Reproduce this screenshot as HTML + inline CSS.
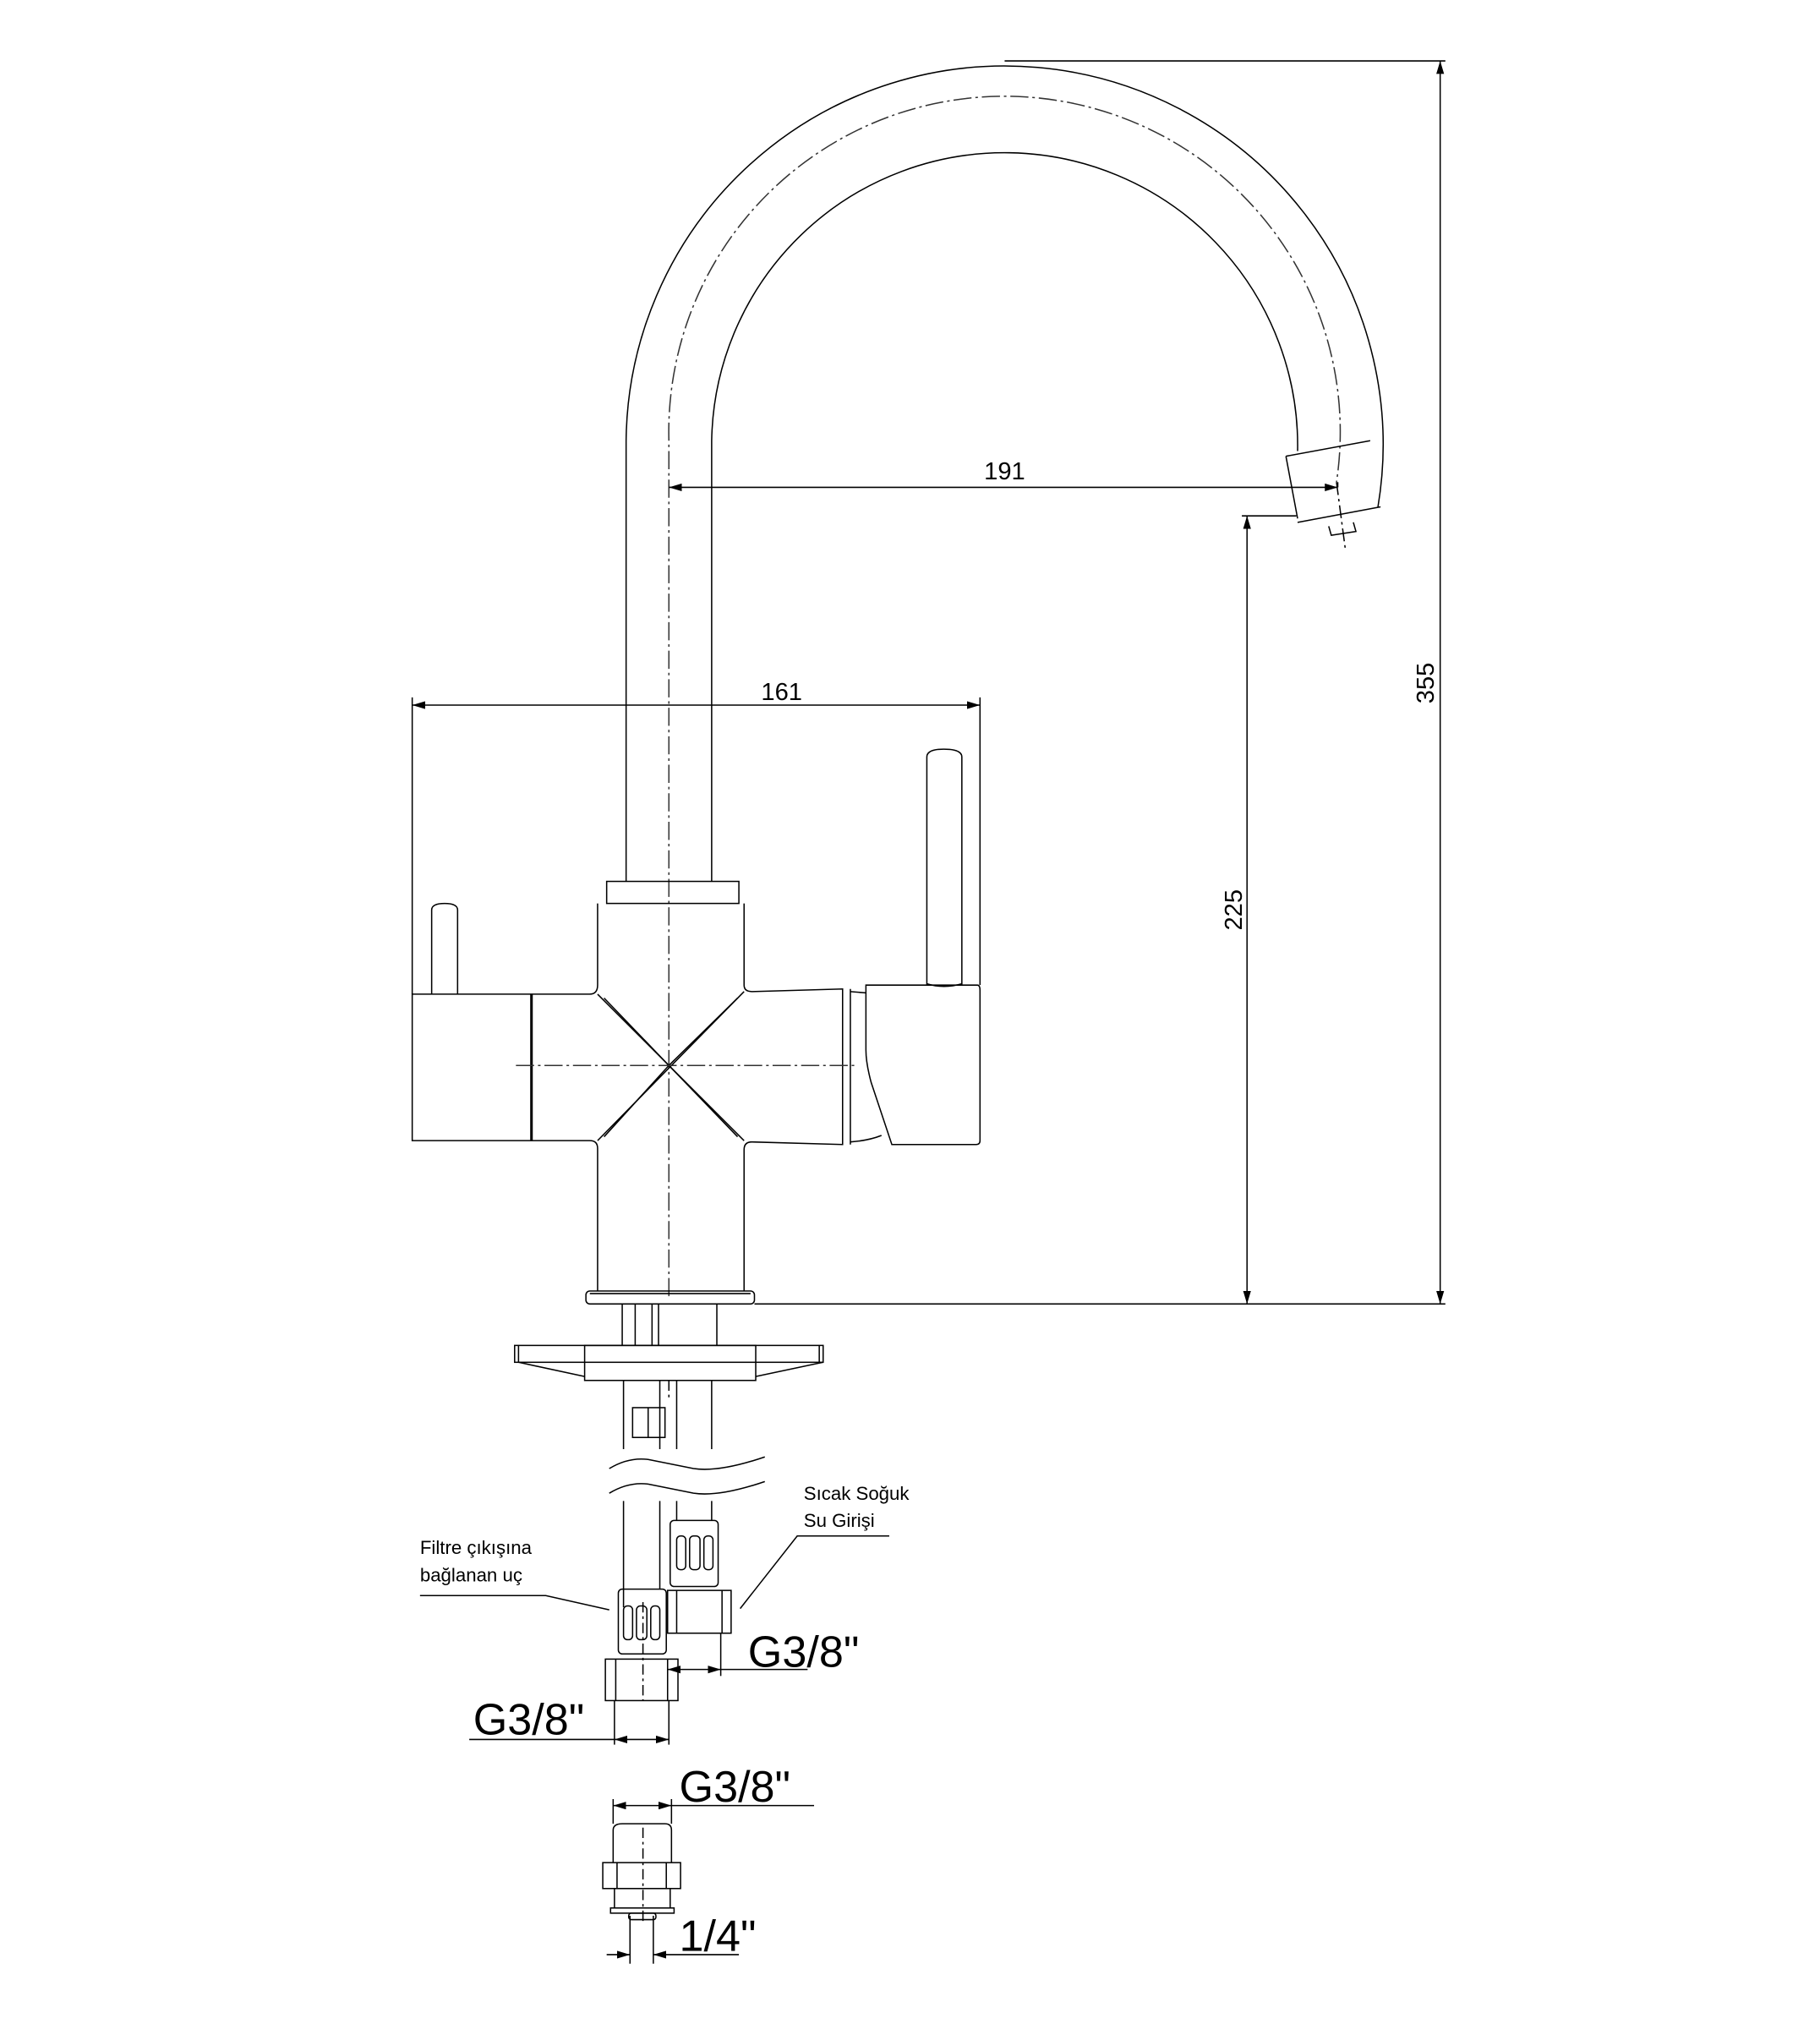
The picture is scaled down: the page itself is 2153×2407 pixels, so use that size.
<!DOCTYPE html>
<html><head><meta charset="utf-8"><style>
html,body{margin:0;padding:0;background:#fff}
svg{display:block}
text{font-family:"Liberation Sans",sans-serif;fill:#000}
</style></head><body>
<svg width="2153" height="2407" viewBox="0 0 1404 1570" preserveAspectRatio="none" xmlns="http://www.w3.org/2000/svg">
<defs>
<marker id="a" viewBox="0 0 10 6" refX="10" refY="3" markerWidth="10" markerHeight="6" orient="auto-start-reverse" markerUnits="userSpaceOnUse"><path d="M0,0 L10,3 L0,6 z" fill="#000"/></marker>
</defs>
<g fill="none" stroke="#000" stroke-width="1">
<!-- spout -->
<path d="M483,680 V340 A292,292 0 1 1 1063,391"/>
<path d="M549,680 V340 A226,226 0 1 1 1001,348"/>
<path d="M516,1000 V340 A259,259 0 1 1 1031,372" stroke-dasharray="14 3 2 3" stroke="#333"/>
<path d="M1031,372 L1038,425" stroke-dasharray="10 3 2 3"/>
<path d="M992,352 L1057,340"/>
<path d="M1001,403 L1065,391"/>
<path d="M1001,400 L992,352"/>
<path d="M1025,406 L1027,413 L1046,410 L1044,403"/>
<!-- dims 191 -->
<line x1="516" y1="376" x2="1032" y2="376" marker-start="url(#a)" marker-end="url(#a)"/>
<line x1="1032" y1="376" x2="1032" y2="372"/>
<!-- dim 161 -->
<line x1="318" y1="544" x2="756" y2="544" marker-start="url(#a)" marker-end="url(#a)"/>
<line x1="318" y1="538" x2="318" y2="767"/>
<line x1="756" y1="538" x2="756" y2="760"/>
<!-- dim 355 -->
<line x1="775" y1="47" x2="1115" y2="47"/>
<line x1="582" y1="1006" x2="1115" y2="1006"/>
<line x1="1111" y1="47" x2="1111" y2="1006" marker-start="url(#a)" marker-end="url(#a)"/>
<!-- dim 225 -->
<line x1="958" y1="398" x2="1000" y2="398"/>
<line x1="962" y1="398" x2="962" y2="1006" marker-start="url(#a)" marker-end="url(#a)"/>
<!-- body -->
<rect x="468" y="680" width="102" height="17"/>
<path d="M461,697 V760 Q461,767 455,767 H318 V880 H455 Q461,880 461,886 V996"/>
<path d="M574,697 V760 Q574,765 580,765 L650,763 V883 L580,881 Q574,881 574,887 V996"/>
<line x1="410" y1="767" x2="410" y2="880" stroke-width="2"/>
<line x1="656" y1="763" x2="656" y2="883"/>
<path d="M656,765 L668,766 M656,881 Q670,880 680,876"/>
<path d="M668,760 H754 Q756,760 756,764 V880 Q756,883 753,883 H688 L672,835 Q668,820 668,810 Z"/>
<path d="M715,760 V584 Q715,578 728,578 Q742,578 742,584 V760"/>
<path d="M715,759 Q728,763 742,759"/>
<path d="M333,767 V702 Q333,697 343,697 Q353,697 353,702 V767"/>
<path d="M461,767 L574,880 M574,765 L461,880"/>
<path d="M466,770 L516,822 L569,770 M466,877 L516,822 L569,877"/>
<line x1="398" y1="822" x2="660" y2="822" stroke-dasharray="14 3 2 3" stroke="#333"/>
<!-- flange -->
<rect x="452" y="996" width="130" height="10" rx="3"/>
<line x1="455" y1="998" x2="579" y2="998"/>
<!-- under -->
<path d="M480,1006 V1038 M490,1006 V1038 M503,1006 V1038 M508,1006 V1038 M553,1006 V1038"/>
<rect x="397" y="1038" width="238" height="13"/>
<rect x="451" y="1038" width="132" height="27"/>
<path d="M400,1051 L451,1062 M635,1051 L583,1062 M400,1038 V1051 M632,1038 V1051"/>
<path d="M481,1065 V1240 M509,1065 V1226 M522,1065 V1173 M549,1065 V1173"/>
<rect x="488" y="1086" width="25" height="23"/>
<line x1="500" y1="1086" x2="500" y2="1109"/>
<line x1="516" y1="1065" x2="516" y2="1080" stroke-dasharray="8 3 2 3"/>
<!-- break waves -->
<rect x="470" y="1118" width="120" height="40" fill="#fff" stroke="none"/>
<path d="M470,1133 Q485,1124 500,1126 Q520,1130 535,1133 Q555,1136 590,1124"/>
<path d="M470,1152 Q485,1143 500,1145 Q520,1149 535,1152 Q555,1155 590,1143"/>
<!-- right hose nut -->
<rect x="517" y="1173" width="37" height="51" rx="3"/>
<rect x="522" y="1185" width="7" height="26" rx="3"/><rect x="532" y="1185" width="8" height="26" rx="3"/><rect x="543" y="1185" width="7" height="26" rx="3"/>
<rect x="515" y="1227" width="49" height="33"/>
<path d="M522,1227 V1260 M557,1227 V1260"/>
<!-- left hose nut -->
<rect x="477" y="1226" width="37" height="50" rx="3"/>
<rect x="481" y="1239" width="7" height="26" rx="3"/><rect x="491" y="1239" width="8" height="26" rx="3"/><rect x="502" y="1239" width="7" height="26" rx="3"/>
<rect x="467" y="1280" width="56" height="32"/>
<path d="M475,1280 V1312 M515,1280 V1312"/>
<line x1="496" y1="1236" x2="496" y2="1312" stroke-dasharray="8 3 2 3"/>
<!-- G3/8 dims -->
<line x1="515" y1="1288" x2="556" y2="1288" marker-start="url(#a)" marker-end="url(#a)"/>
<line x1="556" y1="1288" x2="623" y2="1288"/>
<line x1="556" y1="1260" x2="556" y2="1293"/>
<line x1="474" y1="1312" x2="474" y2="1346"/><line x1="516" y1="1312" x2="516" y2="1346"/>
<line x1="474" y1="1342" x2="516" y2="1342" marker-start="url(#a)" marker-end="url(#a)"/>
<line x1="362" y1="1342" x2="474" y2="1342"/>
<line x1="473" y1="1388" x2="473" y2="1407"/><line x1="518" y1="1388" x2="518" y2="1407"/>
<line x1="473" y1="1393" x2="518" y2="1393" marker-start="url(#a)" marker-end="url(#a)"/>
<line x1="518" y1="1393" x2="628" y2="1393"/>
<!-- fitting -->
<path d="M473,1437 V1412 Q473,1407 480,1407 H513 Q518,1407 518,1412 V1437"/>
<rect x="465" y="1437" width="60" height="20"/>
<path d="M476,1437 V1457 M514,1437 V1457"/>
<rect x="474" y="1457" width="43" height="15"/>
<rect x="471" y="1472" width="49" height="4"/>
<rect x="485" y="1476" width="21" height="5" rx="2"/>
<line x1="496" y1="1410" x2="496" y2="1482" stroke-dasharray="8 3 2 3"/>
<line x1="486" y1="1478" x2="486" y2="1515"/><line x1="504" y1="1478" x2="504" y2="1515"/>
<line x1="468" y1="1508" x2="486" y2="1508" marker-end="url(#a)"/>
<line x1="570" y1="1508" x2="504" y2="1508" marker-end="url(#a)"/>
<!-- leaders -->
<path d="M324,1231 H421 L470,1242"/>
<path d="M686,1185 H615 L571,1241"/>
</g>
<text x="775" y="370" font-size="19" text-anchor="middle">191</text>
<text x="603" y="540" font-size="19" text-anchor="middle">161</text>
<text transform="translate(1106,527) rotate(-90)" font-size="19" text-anchor="middle">355</text>
<text transform="translate(958,702) rotate(-90)" font-size="19" text-anchor="middle">225</text>
<text x="577" y="1286" font-size="34">G3/8"</text>
<text x="365" y="1338" font-size="34">G3/8"</text>
<text x="524" y="1390" font-size="34">G3/8"</text>
<text x="524" y="1505" font-size="34">1/4"</text>
<text x="324" y="1199" font-size="14.5">Filtre çıkışına</text>
<text x="324" y="1220" font-size="14.5">bağlanan uç</text>
<text x="620" y="1157" font-size="14.5">Sıcak Soğuk</text>
<text x="620" y="1178" font-size="14.5">Su Girişi</text>
</svg>
</body></html>
